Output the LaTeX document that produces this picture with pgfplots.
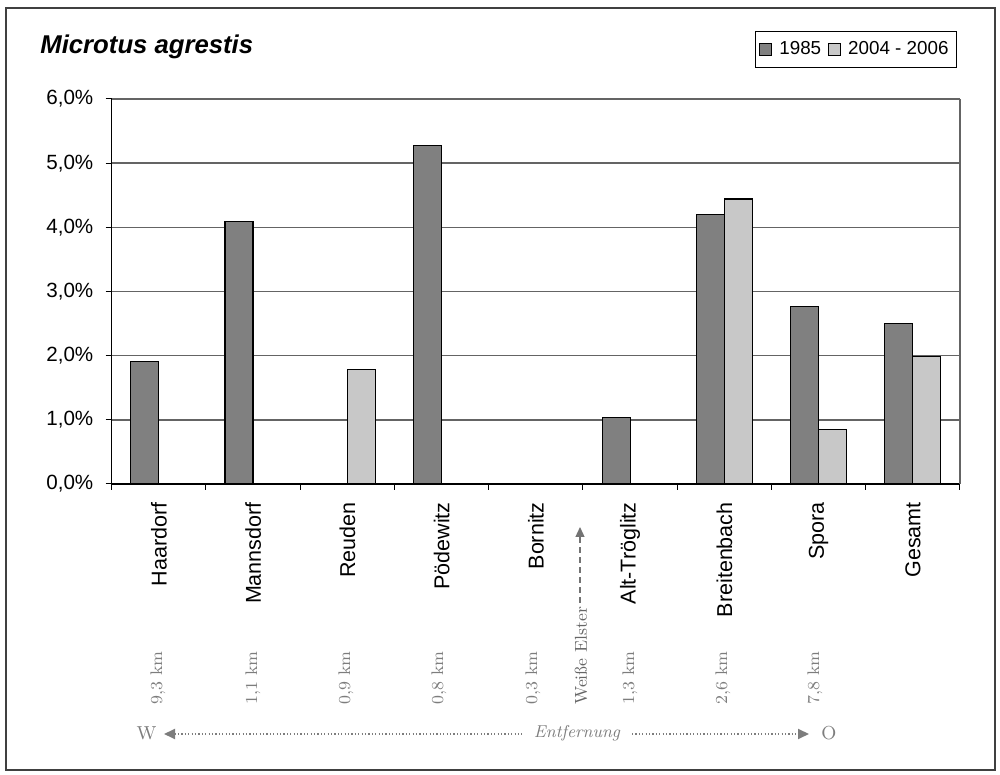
\documentclass[border=0pt]{standalone}
\usepackage{fontspec}
\newfontfamily\arial{Liberation Sans}
\usepackage{pgfplots}
\pgfplotsset{compat=1.18}
\usetikzlibrary{arrows.meta}
\definecolor{darkbar}{RGB}{128,128,128}
\definecolor{lightbar}{RGB}{200,200,200}
\definecolor{gridc}{RGB}{100,100,100}
\definecolor{annot}{RGB}{125,125,125}
\begin{document}
\begin{tikzpicture}
\begin{scope}[x=0.5pt,y=-0.5pt,shift={(0pt,387.5pt)}]
\useasboundingbox (0,0) rectangle (1000,775);
\end{scope}
\begin{axis}[
  at={(55.85pt,145.5pt)}, anchor=south west,
  width=424.15pt, height=192.5pt, scale only axis,
  xmin=-0.5, xmax=8.5, ymin=0, ymax=6,
  ybar=0pt, bar width=14pt,
  axis line style={draw=none},
  clip=false,
  ymajorgrids, grid style={gridc, line width=0.7pt},
  xtick={0,...,8},
  xticklabels={Haardorf,Mannsdorf,Reuden,Pödewitz,Bornitz,Alt-Tröglitz,Breitenbach,Spora,Gesamt},
  minor xtick={-0.5,0.5,...,8.5},
  major x tick style={draw=none},
  minor x tick style={black, line width=0.5pt},
  xtick pos=bottom, ytick pos=left,
  tick align=outside,
  major tick length=3pt, minor tick length=3pt,
  ytick={0,...,6},
  yticklabels={{0,0\%},{1,0\%},{2,0\%},{3,0\%},{4,0\%},{5,0\%},{6,0\%}},
  major y tick style={black, line width=0.5pt},
  xticklabel style={rotate=90, anchor=east, inner sep=0pt, font=\arial\fontsize{10.75}{12}\selectfont},
  xticklabel shift=6pt,
  yticklabel style={anchor=east, inner sep=0pt, font=\arial\fontsize{10.3}{12}\selectfont},
  yticklabel shift=6pt,
  legend columns=-1,
  legend style={at={(0.9965,1.1766)}, anchor=north east, draw=black, line width=0.5pt,
    font=\arial\fontsize{9.4}{11}\selectfont, inner xsep=2pt, inner ysep=3pt,
    /tikz/every odd column/.append style={column sep=1.5pt},
    /tikz/every even column/.append style={column sep=1.5pt}},
  mylegend/.style={legend image code/.code={\draw[##1, line width=0.5pt] (0pt,-3pt) rectangle (6pt,3pt);}},
]
\addplot[fill=darkbar, draw=black, line width=0.6pt, mylegend] coordinates {
  (0,1.91) (1,4.09) (3,5.28) (5,1.04) (6,4.20) (7,2.77) (8,2.50)};
\addplot[fill=lightbar, draw=black, line width=0.6pt, mylegend] coordinates {
  (2,1.78) (6,4.44) (7,0.85) (8,1.99)};
\legend{1985,2004 - 2006}
\draw[black, line width=0.7pt] (axis cs:-0.5,0) -- (axis cs:8.5,0);
\draw[black, line width=0.7pt] (axis cs:-0.5,0) -- (axis cs:-0.5,6);
\draw[gridc, line width=0.6pt] (axis cs:8.5,0) -- (axis cs:8.5,6);
\end{axis}
\begin{scope}[x=0.5pt,y=-0.5pt,shift={(0pt,387.5pt)}]
\draw[line width=1pt, black!75] (6,8) rectangle (995,770);
\node[anchor=base west, inner sep=0pt, font=\arial\bfseries\itshape\fontsize{12.85}{15}\selectfont] at (40,54) {Microtus agrestis};
\foreach \xx/\tt in {158/{9,3 km},253/{1,1 km},346/{0,9 km},439/{0,8 km},533/{0,3 km},630/{1,3 km},723/{2,6 km},815/{7,8 km}}{
  \node[rotate=90, anchor=west, inner sep=0pt, text=annot, font=\fontsize{8.4}{10}\selectfont] at (\xx,705) {\tt};
}
\node[rotate=90, anchor=west, inner sep=0pt, text=black!60, font=\fontsize{8.6}{10}\selectfont] at (581,705) {Weiße Elster};
\draw[black!55, line width=0.6pt, dash pattern=on 3pt off 2pt, -{Triangle[length=5pt,width=4.5pt]}] (580,603) -- (580,527);
\node[anchor=base east, inner sep=0pt, text=annot, font=\fontsize{9.4}{11}\selectfont] at (157,740) {W};
\node[anchor=base west, inner sep=0pt, text=annot, font=\fontsize{9.4}{11}\selectfont] at (821,740) {O};
\node[anchor=base, inner sep=0pt, text=annot, font=\itshape\fontsize{8.6}{10}\selectfont] at (577,738) {Entfernung};
\draw[annot, line width=0.9pt, dash pattern=on 0.6pt off 1.1pt, {Triangle[length=5.5pt,width=5pt]}-] (164,734) -- (522,734);
\draw[annot, line width=0.9pt, dash pattern=on 0.6pt off 1.1pt, -{Triangle[length=5.5pt,width=5pt]}] (632,734) -- (809,734);
\end{scope}
\end{tikzpicture}
\end{document}
